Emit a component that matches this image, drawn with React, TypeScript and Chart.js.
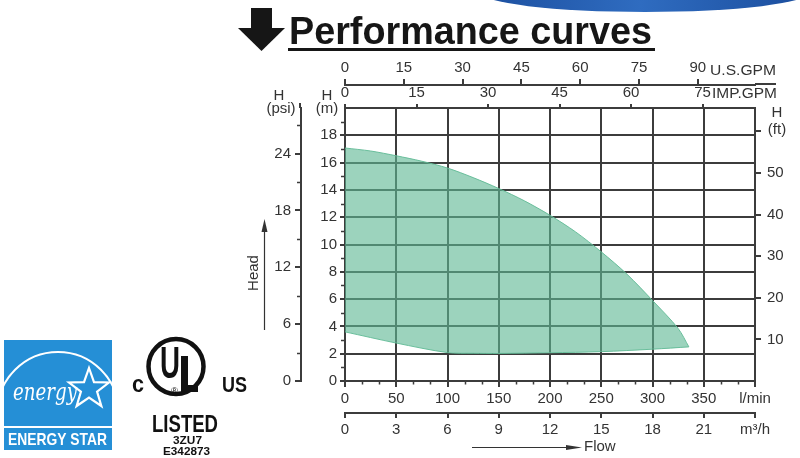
import React, { useEffect, useRef } from "react";
import { Chart, registerables } from "chart.js";

Chart.register(...registerables);

const FONT = "'Liberation Sans', Arial, Helvetica, sans-serif";
const INK = "#333333";
const GRID = "#3c3c3c";

// ---- Flow axes ----
const flowLpmTicks = [0, 50, 100, 150, 200, 250, 300, 350, 400];
const flowLpmMax = 400;
const flowM3hTicks = [0, 3, 6, 9, 12, 15, 18, 21, 24];
const flowM3hMinor = [1, 2, 4, 5, 7, 8, 10, 11, 13, 14, 16, 17, 19, 20, 22, 23];
const flowM3hMax = 24;
const usGpmTicks = [0, 15, 30, 45, 60, 75, 90];
const usGpmMax = 104.6;
const impGpmTicks = [0, 15, 30, 45, 60, 75];
const impGpmMax = 86.0;

// ---- Head axes ----
const headMTicks = [0, 2, 4, 6, 8, 10, 12, 14, 16, 18];
const headMMinor = [1, 3, 5, 7, 9, 11, 13, 15, 17, 19];
const headMMax = 20;
const headPsiTicks = [0, 6, 12, 18, 24];
const headPsiMinor = [3, 9, 15, 21, 27];
const headPsiMax = 28.8;
const headFtTicks = [10, 20, 30, 40, 50, 60];
const headFtMax = 65.6;

// ---- Performance envelope (flow l/min, head m) ----
const upperFlow = [0, 25, 50, 75, 100, 125, 150, 175, 200, 225, 250, 275, 300, 325, 335.5];
const upperHead = [17.07, 16.85, 16.5, 16.1, 15.6, 14.9, 14.1, 13.2, 12.14, 10.92, 9.46, 7.83, 5.9, 3.85, 2.5];
const lowerFlow = [335.5, 300, 250, 200, 150, 125, 100, 50, 0];
const lowerHead = [2.5, 2.33, 2.15, 2.07, 2.02, 2.03, 2.08, 2.78, 3.6];

const tickFont = { family: FONT, size: 15 };

function setTicks(values: number[]) {
  return (scale: any) => {
    scale.ticks = values.map((v) => ({ value: v }));
  };
}
function fixW(w: number) {
  return (scale: any) => {
    scale.width = w;
  };
}
function fixH(h: number) {
  return (scale: any) => {
    scale.height = h;
  };
}

function fitText(ctx: CanvasRenderingContext2D, text: string, x: number, y: number, w: number) {
  const m = ctx.measureText(text).width;
  ctx.save();
  ctx.translate(x, y);
  ctx.scale(w / m, 1);
  ctx.textAlign = "left";
  ctx.fillText(text, 0, 0);
  ctx.restore();
}

const decoPlugin = {
  id: "deco",
  afterDraw(chart: any) {
    const ctx: CanvasRenderingContext2D = chart.ctx;
    const s = chart.scales;
    ctx.save();

    // minor ticks
    ctx.strokeStyle = GRID;
    ctx.lineWidth = 1.5;
    ctx.beginPath();
    flowM3hMinor.forEach((v) => {
      const px = Math.round(s.x2.getPixelForValue(v)) + 0.5;
      ctx.moveTo(px, s.x.top);
      ctx.lineTo(px, s.x.top + 3.5);
    });
    headMMinor.forEach((v) => {
      const py = Math.round(s.yM.getPixelForValue(v)) + 0.5;
      ctx.moveTo(s.yM.right - 4, py);
      ctx.lineTo(s.yM.right, py);
    });
    headPsiMinor.forEach((v) => {
      const py = Math.round(s.yPsi.getPixelForValue(v)) + 0.5;
      ctx.moveTo(s.yPsi.right - 4, py);
      ctx.lineTo(s.yPsi.right, py);
    });
    ctx.stroke();

    // axis extensions
    ctx.lineWidth = 2;
    ctx.beginPath();
    ctx.moveTo(s.xUs.right, s.xUs.bottom - 1);
    ctx.lineTo(776, s.xUs.bottom - 1);
    ctx.moveTo(s.yPsi.right - 1, 103);
    ctx.lineTo(s.yPsi.right - 1, s.yPsi.top);
    ctx.stroke();

    // axis names
    ctx.fillStyle = INK;
    ctx.font = `15px ${FONT}`;
    ctx.textBaseline = "middle";
    ctx.textAlign = "center";
    ctx.fillText("H", 279, 96);
    ctx.fillText("(psi)", 281, 109);
    ctx.fillText("H", 327, 96);
    ctx.fillText("(m)", 327, 109);
    ctx.fillText("H", 777, 113);
    ctx.fillText("(ft)", 777, 130);
    ctx.textAlign = "left";
    fitText(ctx, "U.S.GPM", 710, 71, 66);
    fitText(ctx, "IMP.GPM", 712, 94, 65);
    ctx.fillText("Flow", 584, 447);

    // Head label + arrow
    ctx.save();
    ctx.translate(254, 273);
    ctx.rotate(-Math.PI / 2);
    ctx.textAlign = "center";
    ctx.fillText("Head", 0, 0);
    ctx.restore();
    ctx.strokeStyle = INK;
    ctx.lineWidth = 1.2;
    ctx.beginPath();
    ctx.moveTo(264.5, 330);
    ctx.lineTo(264.5, 228);
    ctx.stroke();
    ctx.beginPath();
    ctx.moveTo(261.5, 232);
    ctx.lineTo(267.5, 232);
    ctx.lineTo(264.5, 219);
    ctx.closePath();
    ctx.fill();

    // Flow arrow
    ctx.beginPath();
    ctx.moveTo(472, 447.5);
    ctx.lineTo(570, 447.5);
    ctx.stroke();
    ctx.beginPath();
    ctx.moveTo(566, 445);
    ctx.lineTo(566, 450);
    ctx.lineTo(582, 447.5);
    ctx.closePath();
    ctx.fill();

    // blue ellipse at top
    const g = ctx.createLinearGradient(480, 0, 800, 0);
    g.addColorStop(0, "#1c4f9f");
    g.addColorStop(0.5, "#2f6cc0");
    g.addColorStop(1, "#1c4f9f");
    ctx.fillStyle = g;
    ctx.beginPath();
    ctx.ellipse(645, -8, 165, 20, 0, 0, Math.PI * 2);
    ctx.fill();

    // Title
    ctx.fillStyle = "#161616";
    ctx.beginPath();
    ctx.rect(251, 8, 21, 21);
    ctx.fill();
    ctx.beginPath();
    ctx.moveTo(238, 28);
    ctx.lineTo(285, 28);
    ctx.lineTo(261.5, 51);
    ctx.closePath();
    ctx.fill();
    ctx.font = `bold 38px ${FONT}`;
    ctx.textBaseline = "alphabetic";
    fitText(ctx, "Performance curves", 289, 44, 363);
    ctx.fillRect(288, 48, 367, 3);

    // ENERGY STAR logo
    const blue = "#258fd6";
    ctx.fillStyle = blue;
    ctx.fillRect(4, 340, 108, 110);
    ctx.fillStyle = "#ffffff";
    ctx.fillRect(4, 426, 108, 2);
    ctx.save();
    ctx.beginPath();
    ctx.rect(4, 340, 108, 86);
    ctx.clip();
    ctx.strokeStyle = "#ffffff";
    ctx.lineWidth = 2;
    ctx.beginPath();
    ctx.arc(58, 412.7, 60.7, 0, Math.PI * 2);
    ctx.stroke();
    // star
    ctx.beginPath();
    const cx = 89, cy = 389, ro = 21, ri = 8.5;
    for (let i = 0; i < 10; i++) {
      const r = i % 2 === 0 ? ro : ri;
      const a = -Math.PI / 2 + (i * Math.PI) / 5;
      const px = cx + r * Math.cos(a);
      const py = cy + r * Math.sin(a);
      if (i === 0) ctx.moveTo(px, py);
      else ctx.lineTo(px, py);
    }
    ctx.closePath();
    ctx.fillStyle = blue;
    ctx.fill();
    ctx.lineWidth = 2.2;
    ctx.stroke();
    ctx.fillStyle = "#ffffff";
    ctx.font = `italic 24px 'DejaVu Serif', serif`;
    ctx.textBaseline = "alphabetic";
    fitText(ctx, "energy", 13, 400, 64);
    ctx.restore();
    ctx.fillStyle = "#ffffff";
    ctx.font = `bold 17px ${FONT}`;
    ctx.textBaseline = "middle";
    fitText(ctx, "ENERGY STAR", 8, 440, 99);

    // UL logo
    ctx.fillStyle = "#111111";
    ctx.strokeStyle = "#111111";
    ctx.lineWidth = 4.5;
    ctx.beginPath();
    ctx.arc(176, 366.5, 27.5, 0, Math.PI * 2);
    ctx.stroke();
    ctx.textBaseline = "alphabetic";
    ctx.font = `bold 45px ${FONT}`;
    fitText(ctx, "U", 160, 378, 20);
    // L as solid strokes
    ctx.fillRect(181, 356, 7, 36);
    ctx.fillRect(181, 385, 17, 7);
    ctx.font = `8px ${FONT}`;
    fitText(ctx, "®", 171, 393, 7);
    ctx.font = `bold 24px ${FONT}`;
    fitText(ctx, "c", 132, 392, 12);
    ctx.font = `bold 22px ${FONT}`;
    fitText(ctx, "US", 222, 392, 25);
    ctx.font = `bold 23px ${FONT}`;
    fitText(ctx, "LISTED", 152, 432, 66);
    ctx.font = `bold 11px ${FONT}`;
    fitText(ctx, "3ZU7", 173, 444, 29);
    fitText(ctx, "E342873", 163, 455, 47);

    ctx.restore();
  },
};

export default function App() {
  const ref = useRef<HTMLCanvasElement | null>(null);

  useEffect(() => {
    if (!ref.current) return;
    const envelope = [
      ...upperFlow.map((f, i) => ({ x: f, y: upperHead[i] })),
      ...lowerFlow.map((f, i) => ({ x: f, y: lowerHead[i] })),
    ];
    const chart = new Chart(ref.current, {
      type: "scatter",
      data: {
        datasets: [
          {
            data: envelope,
            showLine: true,
            fill: "shape",
            backgroundColor: "rgba(96,184,148,0.62)",
            borderColor: "rgba(100,188,152,0.95)",
            borderWidth: 1,
            pointRadius: 0,
            tension: 0.3,
            xAxisID: "x",
            yAxisID: "yM",
          } as any,
        ],
      },
      options: {
        animation: false,
        responsive: false,
        devicePixelRatio: 1,
        layout: { padding: { left: 250, right: 0, top: 55, bottom: 15 } },
        plugins: { legend: { display: false }, tooltip: { enabled: false }, title: { display: false } },
        scales: {
          x: {
            type: "linear",
            axis: "x",
            position: "bottom",
            weight: 0,
            min: 0,
            max: flowLpmMax,
            afterBuildTicks: setTicks(flowLpmTicks),
            afterFit: fixH(32),
            ticks: {
              font: tickFont,
              color: INK,
              padding: 3,
              maxRotation: 0,
              autoSkip: false,
              callback: (v: any) => (v === flowLpmMax ? "l/min" : String(v)),
            },
            grid: { color: GRID, lineWidth: 2, tickLength: 6, tickColor: GRID, drawOnChartArea: true },
            border: { display: true, color: GRID, width: 2 },
          },
          x2: {
            type: "linear",
            axis: "x",
            position: "bottom",
            weight: 1,
            min: 0,
            max: flowM3hMax,
            afterBuildTicks: setTicks(flowM3hTicks),
            afterFit: fixH(30),
            ticks: {
              font: tickFont,
              color: INK,
              padding: 3,
              maxRotation: 0,
              autoSkip: false,
              callback: (v: any) => (v === flowM3hMax ? "m³/h" : String(v)),
            },
            grid: { color: GRID, lineWidth: 2, tickLength: 5, drawOnChartArea: false },
            border: { display: true, color: GRID, width: 2 },
          },
          xImp: {
            type: "linear",
            axis: "x",
            position: "top",
            weight: 0,
            min: 0,
            max: impGpmMax,
            afterBuildTicks: setTicks(impGpmTicks),
            afterFit: fixH(23),
            ticks: { font: tickFont, color: INK, padding: 2, maxRotation: 0, autoSkip: false },
            grid: { color: GRID, lineWidth: 2, tickLength: 4, drawOnChartArea: false },
            border: { display: true, color: GRID, width: 2 },
          },
          xUs: {
            type: "linear",
            axis: "x",
            position: "top",
            weight: 1,
            min: 0,
            max: usGpmMax,
            afterBuildTicks: setTicks(usGpmTicks),
            afterFit: fixH(30),
            ticks: { font: tickFont, color: INK, padding: 2, maxRotation: 0, autoSkip: false },
            grid: { color: GRID, lineWidth: 2, tickLength: 6, drawOnChartArea: false },
            border: { display: true, color: GRID, width: 2 },
          },
          yM: {
            type: "linear",
            axis: "y",
            position: "left",
            weight: 0,
            min: 0,
            max: headMMax,
            afterBuildTicks: setTicks(headMTicks),
            afterFit: fixW(44),
            ticks: { font: tickFont, color: INK, padding: 3, autoSkip: false },
            grid: { color: GRID, lineWidth: 2, tickLength: 5, drawOnChartArea: true },
            border: { display: true, color: GRID, width: 2 },
          },
          yPsi: {
            type: "linear",
            axis: "y",
            position: "left",
            weight: 1,
            min: 0,
            max: headPsiMax,
            afterBuildTicks: setTicks(headPsiTicks),
            afterFit: fixW(51),
            ticks: { font: tickFont, color: INK, padding: 4, autoSkip: false },
            grid: { color: GRID, lineWidth: 2, tickLength: 6, drawOnChartArea: false },
            border: { display: true, color: GRID, width: 2 },
          },
          yFt: {
            type: "linear",
            axis: "y",
            position: "right",
            min: 0,
            max: headFtMax,
            afterBuildTicks: setTicks(headFtTicks),
            afterFit: fixW(45),
            ticks: {
              font: tickFont,
              color: INK,
              padding: 6,
              autoSkip: false,
              callback: (v: any) => (v === 60 ? "" : String(v)),
            },
            grid: { color: GRID, lineWidth: 2, tickLength: 6, drawOnChartArea: false },
            border: { display: true, color: GRID, width: 2 },
          },
        },
      } as any,
      plugins: [decoPlugin],
    });
    return () => chart.destroy();
  }, []);

  return (
    <div style={{ position: "fixed", left: 0, top: 0, width: 800, height: 458, background: "#ffffff" }}>
      <canvas ref={ref} width={800} height={458} style={{ display: "block", width: 800, height: 458 }} />
    </div>
  );
}
